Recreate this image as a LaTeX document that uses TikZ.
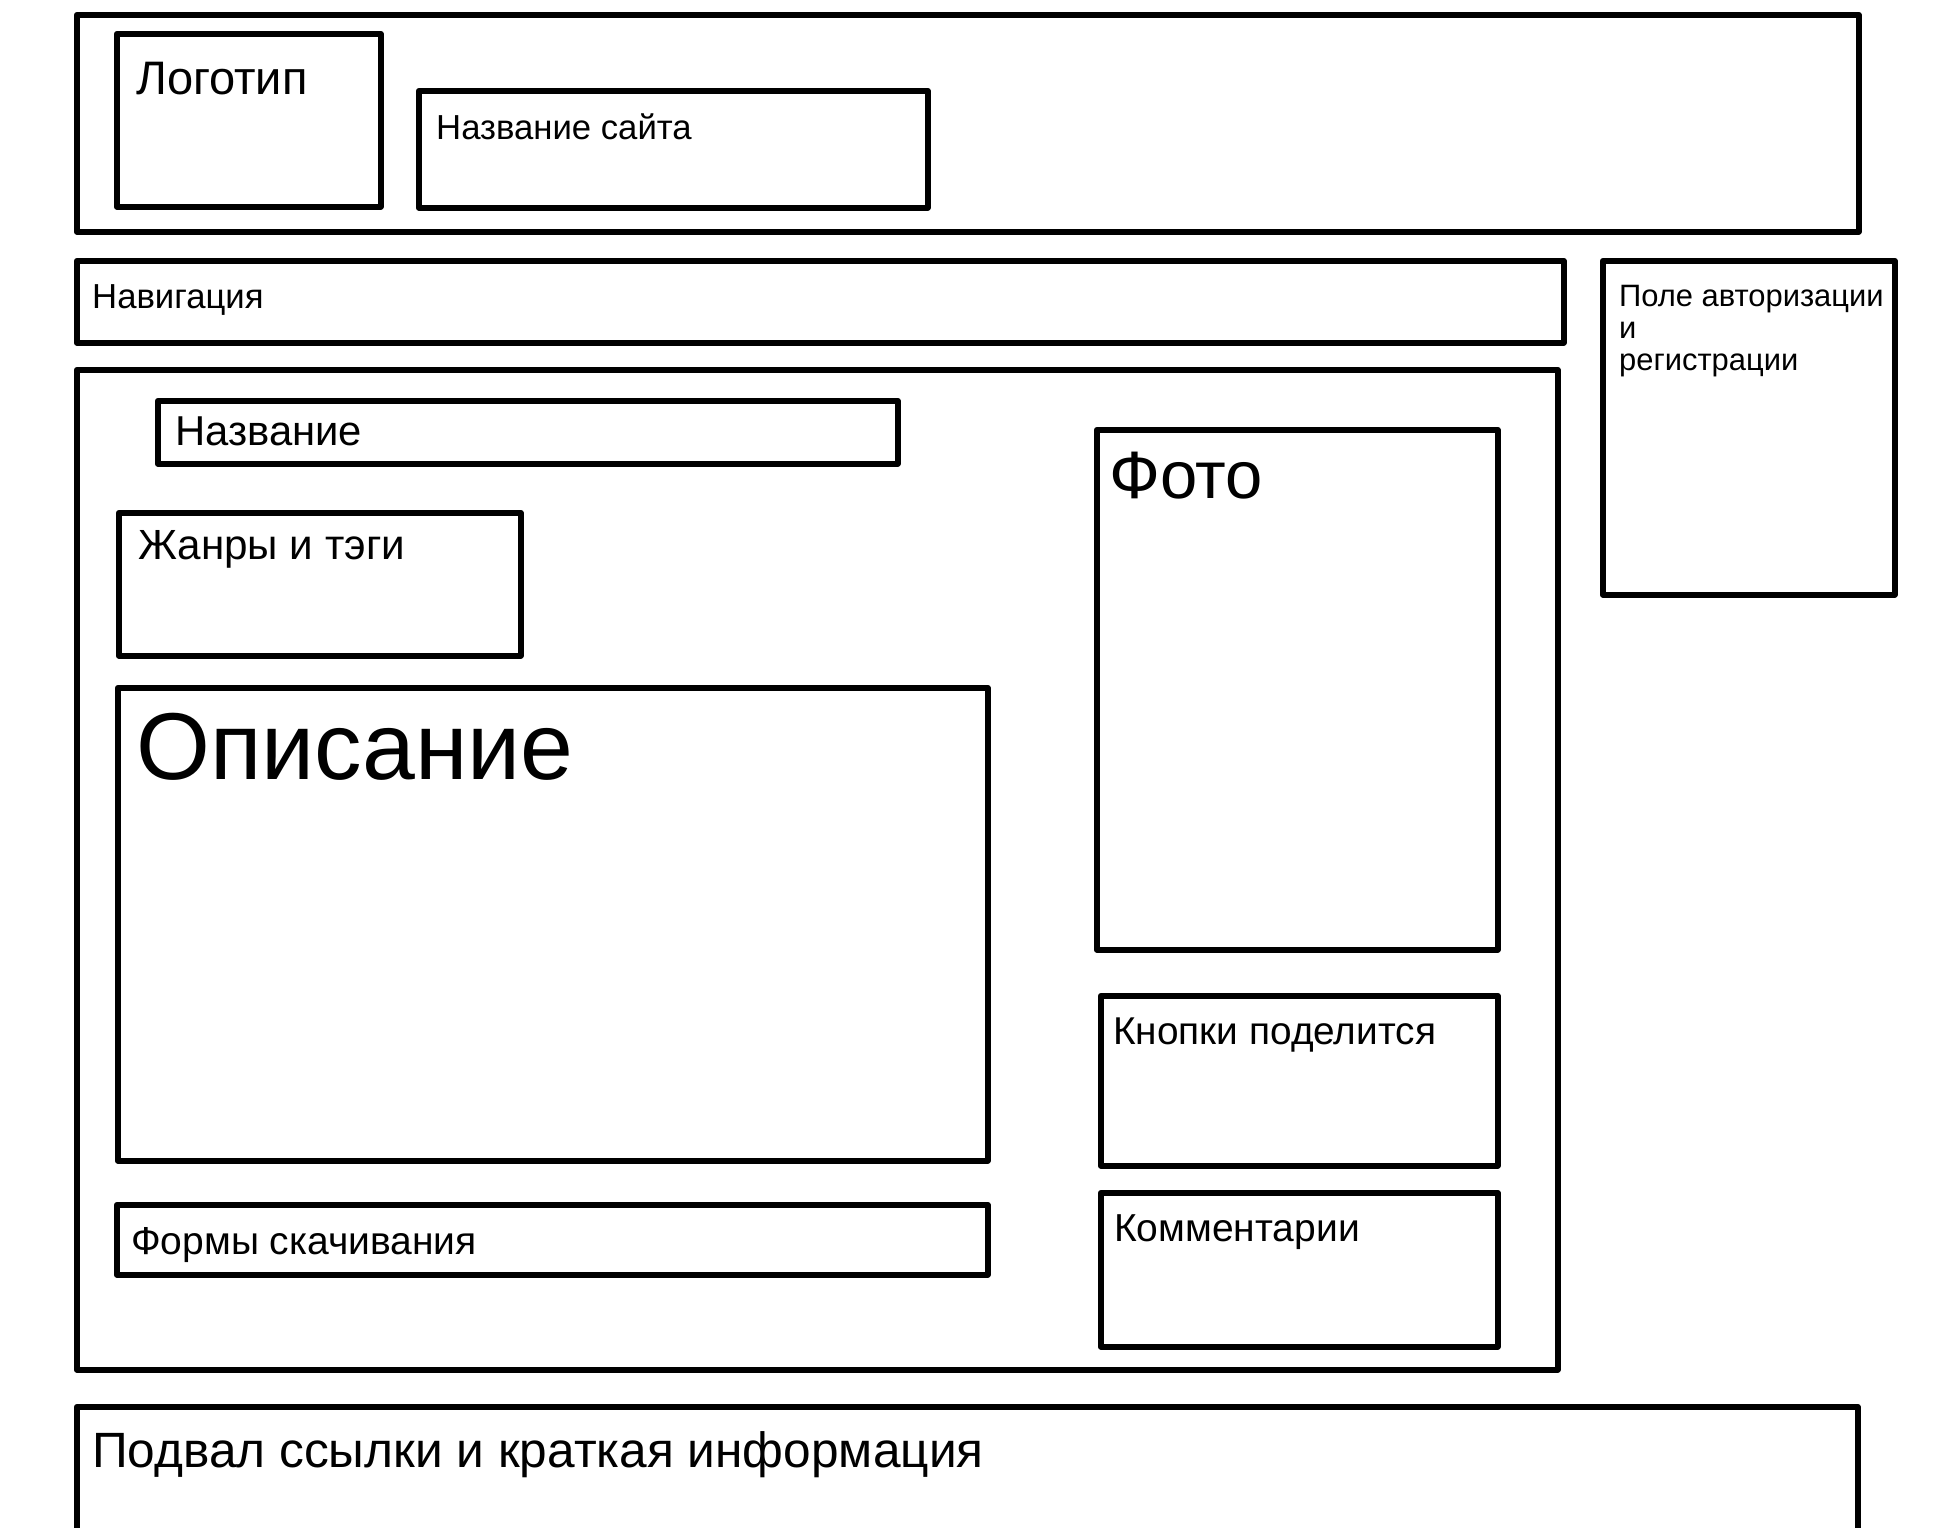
\documentclass[tikz,border=0pt]{standalone}
\usepackage{fontspec}
\setmainfont{Liberation Sans}
\begin{document}
\begin{tikzpicture}[x=1pt,y=-1pt,
  box/.style={draw=black, line width=5.5pt, line join=round, fill=none,
    inner sep=0pt, anchor=north west},
  txt/.style={inner sep=0pt, anchor=base west, text=black},
  fs/.style={font=\fontsize{#1}{#1}\selectfont}]
\useasboundingbox[fill=white] (0,0) rectangle (1935,1527);
\clip (0,0) rectangle (1935,1527);

% header block
\node[box, minimum width=1782pt, minimum height=217pt] (header) at (74,12) {};
\node[box, minimum width=264pt, minimum height=173pt] (logo) at (114,31) {};
\node[box, minimum width=509pt, minimum height=117pt] (sitename) at (416,88) {};
\node[txt, fs=47] (logotxt) at (136,94) {Логотип};
\node[txt, fs=34.7] (sitenametxt) at (436,139) {Название сайта};

% navigation and login
\node[box, minimum width=1487pt, minimum height=82pt] (nav) at (74,258) {};
\node[txt, fs=34.7] (navtxt) at (92,308) {Навигация};
\node[box, minimum width=292pt, minimum height=334pt] (auth) at (1600,258) {};
\node[txt, fs=30.9] (authtxt1) at (1619,306) {Поле авторизации};
\node[txt, fs=30.9] (authtxt2) at (1619,338) {и};
\node[txt, fs=30.9] (authtxt3) at (1619,370) {регистрации};

% main content
\node[box, minimum width=1481pt, minimum height=1000pt] (main) at (74,367) {};
\node[box, minimum width=740pt, minimum height=63pt] (title) at (155,398) {};
\node[txt, fs=41.8] (titletxt) at (175,445) {Название};
\node[box, minimum width=402pt, minimum height=143pt] (genres) at (116,510) {};
\node[txt, fs=42.2] (genrestxt) at (138,559) {Жанры и тэги};
\node[box, minimum width=870pt, minimum height=473pt] (desc) at (115,685) {};
\node[txt, fs=95] (desctxt) at (136,779) {Описание};
\node[box, minimum width=871pt, minimum height=70pt] (dl) at (114,1202) {};
\node[txt, fs=39] (dltxt) at (131,1254) {Формы скачивания};

\node[box, minimum width=401pt, minimum height=520pt] (photo) at (1094,427) {};
\node[txt, fs=67] (phototxt) at (1109,498) {Фото};
\node[box, minimum width=397pt, minimum height=170pt] (share) at (1098,993) {};
\node[txt, fs=38.8] (sharetxt) at (1113,1044) {Кнопки поделится};
\node[box, minimum width=397pt, minimum height=154pt] (comments) at (1098,1190) {};
\node[txt, fs=39] (commentstxt) at (1114,1241) {Комментарии};

% footer
\node[box, minimum width=1781pt, minimum height=200pt] (footer) at (74,1404) {};
\node[txt, fs=49.6] (footertxt) at (92,1467) {Подвал ссылки и краткая информация};
\end{tikzpicture}
\end{document}
